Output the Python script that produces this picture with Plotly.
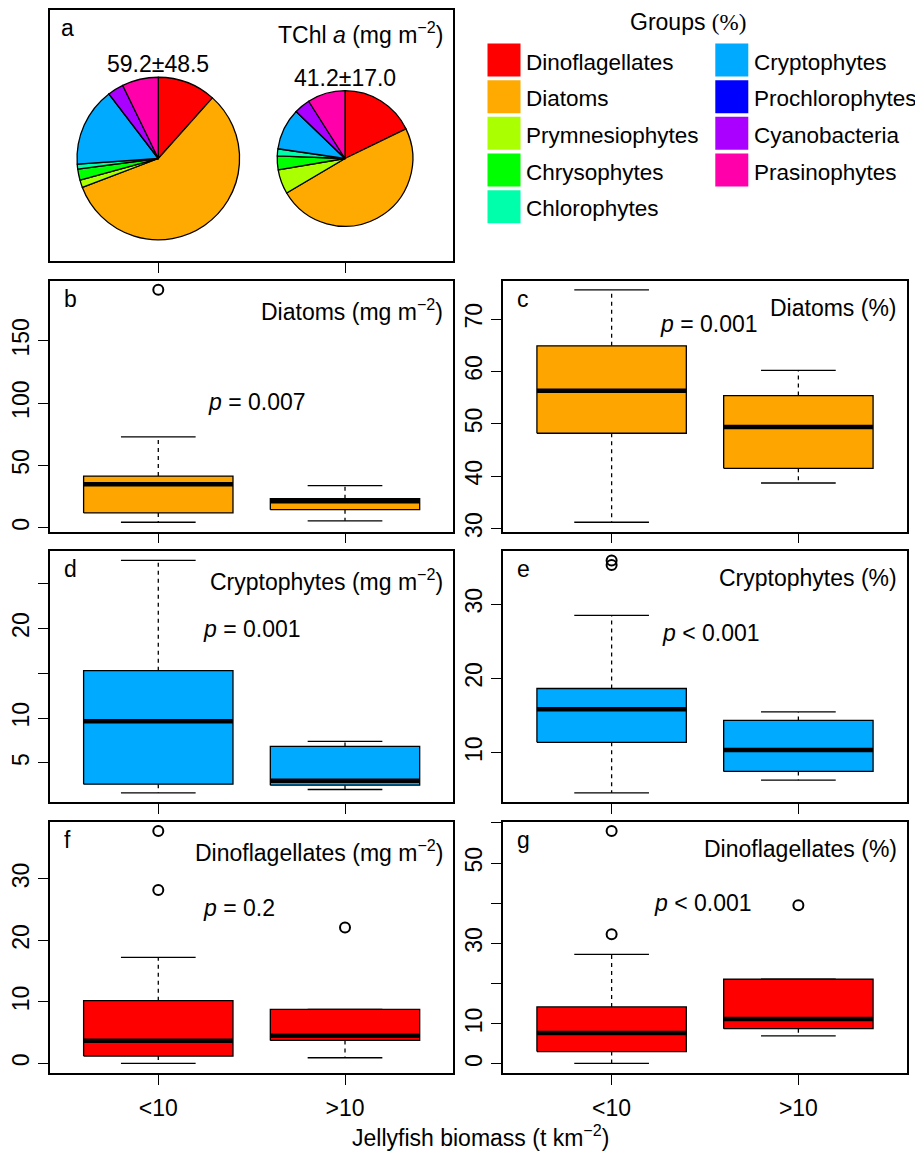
import plotly.graph_objects as go

# The page body has an 8 px margin, so the figure is sized to the visible window
# minus that margin and reference pixel positions are shifted by OFF.
OFF = 8
W, H = 923 - OFF, 1153 - OFF
FONT = "Liberation Sans, Arial, sans-serif"
FS = 23

# ---------------- data ----------------
groups = ["<10", ">10"]
group_pos = [1, 2]

pie_groups = ["Dinoflagellates", "Diatoms", "Prymnesiophytes", "Chrysophytes",
              "Chlorophytes", "Cryptophytes", "Prochlorophytes", "Cyanobacteria",
              "Prasinophytes"]
pie_colors = ["#FF0000", "#FFAA00", "#AAFF00", "#00FF00", "#00FFAA",
              "#00AAFF", "#0000FF", "#AA00FF", "#FF00AA"]
pie_low = [11.6, 57.6, 1.5, 2.2, 1.0, 15.7, 0.0, 3.2, 7.2]
pie_high = [17.8, 48.7, 5.8, 3.3, 1.7, 9.9, 0.0, 3.8, 9.0]
tchl_mean = [59.2, 41.2]
tchl_sd = [48.5, 17.0]

# box statistics per group: [lower whisker, Q1, median, Q3, upper whisker]
diatoms_mg_stats = [[4.5, 12.0, 35.0, 41.5, 72.9], [5.6, 14.6, 21.3, 23.4, 33.8]]
diatoms_mg_out = [[190.9], []]
diatoms_pct_stats = [[31.2, 48.2, 56.3, 64.9, 75.6], [38.7, 41.5, 49.4, 55.4, 60.2]]
diatoms_pct_out = [[], []]
crypto_mg_stats = [[1.67, 2.63, 9.67, 15.3, 27.6], [2.04, 2.52, 3.03, 6.85, 7.4]]
crypto_mg_out = [[], []]
crypto_pct_stats = [[4.6, 11.4, 15.86, 18.65, 28.5], [6.3, 7.48, 10.36, 14.35, 15.5]]
crypto_pct_out = [[35.3, 35.9], []]
dino_mg_stats = [[0.0, 1.19, 3.68, 10.2, 17.26], [0.92, 3.73, 4.5, 8.8, 8.8]]
dino_mg_out = [[28.2, 37.8], [22.1]]
dino_pct_stats = [[0.15, 3.1, 7.7, 14.2, 27.3], [7.0, 8.8, 11.2, 21.1, 21.1]]
dino_pct_out = [[32.3, 58.0], [39.5]]

p_texts = ["<i>p</i> = 0.007", "<i>p</i> = 0.001", "<i>p</i> = 0.001",
           "<i>p</i> < 0.001", "<i>p</i> = 0.2", "<i>p</i> < 0.001"]

ticks_b = [0, 50, 100, 150]
ticks_c = [30, 40, 50, 60, 70]
ticks_d = [5, 10, 15, 20, 25]
ticklabels_d = ["5", "10", "", "20", ""]
ticks_e = [10, 20, 30]
ticks_f = [0, 10, 20, 30]
ticks_g = [0, 10, 20, 30, 40, 50, 60]
ticklabels_g = ["0", "10", "", "30", "", "50", ""]

# ---------------- layout helpers (reference pixel coords) ----------------
LEFT = (50, 453.3)
RIGHT = (503.3, 906.7)
ROW_TOPS = [10, 282, 554, 826]
PANEL_H = 252.3
XR = [group_pos[0] - 0.5 - 0.04 * len(groups), group_pos[-1] + 0.5 + 0.04 * len(groups)]


def px_x(px):
    return (px - OFF) / W


def px_y(py):
    return 1 - (py - OFF) / H


def xdom(px):
    return [px_x(px[0]), px_x(px[1])]


def ydom(top):
    return [px_y(top + PANEL_H), px_y(top)]


fig = go.Figure()
layout = dict(width=W, height=H, margin=dict(l=0, r=0, t=0, b=0),
              paper_bgcolor="white", plot_bgcolor="white", showlegend=False,
              font=dict(family=FONT, size=FS, color="black"))
annotations = []

axis_common = dict(showline=True, mirror=True, linecolor="black", linewidth=1.8,
                   showgrid=False, zeroline=False, ticks="outside", ticklen=10,
                   tickwidth=1.3, tickcolor="black",
                   tickfont=dict(family=FONT, size=FS, color="black"))

# ---------------- panel a (pies) ----------------
layout["xaxis"] = dict(axis_common, domain=xdom(LEFT), range=XR, tickvals=group_pos,
                       showticklabels=False, anchor="y")
layout["yaxis"] = dict(axis_common, domain=ydom(ROW_TOPS[0]), range=[0, 1], ticks="",
                       showticklabels=False, anchor="x")
# empty cartesian trace so that panel a's frame and ticks are drawn
fig.add_trace(go.Scatter(x=[], y=[], xaxis="x", yaxis="y", hoverinfo="skip"))


def data_to_px_x(v, px):
    return px[0] + (v - XR[0]) / (XR[1] - XR[0]) * (px[1] - px[0])


pie_cy = 159.3
r1 = 81.7
for i, vals in enumerate([pie_low, pie_high]):
    r = r1 * (tchl_mean[i] / tchl_mean[0]) ** 0.5
    cx = data_to_px_x(group_pos[i], LEFT)
    fig.add_trace(go.Pie(values=vals, labels=pie_groups, sort=False, direction="clockwise",
                         rotation=0, textinfo="none", hoverinfo="label+value",
                         marker=dict(colors=pie_colors, line=dict(color="black", width=1.3)),
                         domain=dict(x=[px_x(cx - r), px_x(cx + r)],
                                     y=[px_y(pie_cy + r), px_y(pie_cy - r)])))
    annotations.append(dict(text=f"{tchl_mean[i]:.1f}±{tchl_sd[i]:.1f}", x=px_x(cx),
                            y=px_y(pie_cy - r - 13), xref="paper", yref="paper",
                            showarrow=False, xanchor="center", yanchor="middle",
                            font=dict(size=FS)))

annotations.append(dict(text="a", x=0, y=1, xref="x domain", yref="y domain",
                        xanchor="left", yanchor="top", xshift=9, yshift=-3,
                        showarrow=False, font=dict(size=FS)))
annotations.append(dict(text="TChl <i>a</i> (mg m<sup>−2</sup>)", x=1, y=1,
                        xref="x domain", yref="y domain", xanchor="right", yanchor="top",
                        xshift=-8, yshift=-6, showarrow=False, font=dict(size=FS)))

# ---------------- legend (groups) ----------------
leg_col = [i // 5 for i in range(len(pie_groups))]
leg_row = [i % 5 for i in range(len(pie_groups))]
col_x0, col_dx = 504.0, 227.8
row_y0, row_dy = 60.3, 36.85
layout["xaxis8"] = dict(domain=[px_x(460), 1],
                        range=[(460 - col_x0) / col_dx, (923 - col_x0) / col_dx],
                        visible=False, anchor="y8", fixedrange=True)
layout["yaxis8"] = dict(domain=[px_y(260), 1],
                        range=[(260 - row_y0) / row_dy, (OFF - row_y0) / row_dy],
                        visible=False, anchor="x8", fixedrange=True)
fig.add_trace(go.Scatter(x=leg_col, y=leg_row, mode="markers",
                         marker=dict(symbol="square", size=33, color=pie_colors,
                                     line=dict(width=0)),
                         xaxis="x8", yaxis="y8", hoverinfo="skip", cliponaxis=False))
for name, c, r in zip(pie_groups, leg_col, leg_row):
    annotations.append(dict(text=name, x=c, y=r, xref="x8", yref="y8",
                            xanchor="left", yanchor="middle", xshift=20, yshift=-2,
                            showarrow=False, font=dict(size=22.5)))
annotations.append(dict(text="Groups <span style=\"font-family:Liberation Serif\">(%)</span>",
                        x=px_x(688), y=px_y(21.7), xref="paper", yref="paper",
                        showarrow=False, xanchor="center", yanchor="middle",
                        font=dict(size=FS)))

# ---------------- box panels ----------------
panels = [
    ("b", "Diatoms (mg m<sup>−2</sup>)", diatoms_mg_stats, diatoms_mg_out, "#FFA500",
     LEFT, ROW_TOPS[1], ticks_b, None, (1.53, 101), False),
    ("c", "Diatoms (%)", diatoms_pct_stats, diatoms_pct_out, "#FFA500",
     RIGHT, ROW_TOPS[1], ticks_c, None, (1.52, 69.0), False),
    ("d", "Cryptophytes (mg m<sup>−2</sup>)", crypto_mg_stats, crypto_mg_out, "#00AAFF",
     LEFT, ROW_TOPS[2], ticks_d, ticklabels_d, (1.50, 20.0), False),
    ("e", "Cryptophytes (%)", crypto_pct_stats, crypto_pct_out, "#00AAFF",
     RIGHT, ROW_TOPS[2], ticks_e, None, (1.53, 26.1), False),
    ("f", "Dinoflagellates (mg m<sup>−2</sup>)", dino_mg_stats, dino_mg_out, "#FF0000",
     LEFT, ROW_TOPS[3], ticks_f, None, (1.43, 25.3), True),
    ("g", "Dinoflagellates (%)", dino_pct_stats, dino_pct_out, "#FF0000",
     RIGHT, ROW_TOPS[3], ticks_g, ticklabels_g, (1.49, 40.2), True),
]

BW = 0.4   # half box width
SW = 0.2   # half staple width

for k, (letter, title, stats, outs, color, xpx, top, tv, tt, ppos, showx) in enumerate(panels):
    n = k + 2
    xa, ya = f"x{n}", f"y{n}"
    allv = [v for s in stats for v in s] + [v for o in outs for v in o]
    lo, hi = min(allv), max(allv)
    pad = 0.04 * (hi - lo)
    labels = tt if tt else [str(v) for v in tv]
    major_v = [v for v, l in zip(tv, labels) if l]
    major_t = [l for l in labels if l]
    minor_v = [v for v, l in zip(tv, labels) if not l]
    layout[f"xaxis{n}"] = dict(axis_common, domain=xdom(xpx), range=XR, tickvals=group_pos,
                               ticktext=groups, showticklabels=showx, anchor=ya,
                               ticklabelstandoff=4)
    yax = dict(axis_common, domain=ydom(top), range=[lo - pad, hi + pad],
               tickmode="array", tickvals=major_v, ticktext=major_t,
               tickangle=-90, anchor=xa)
    if minor_v:
        yax["minor"] = dict(tickmode="array", tickvals=minor_v, ticks="outside",
                            ticklen=10, tickwidth=1.3, tickcolor="black", showgrid=False)
    layout[f"yaxis{n}"] = yax
    for g, s, o in zip(group_pos, stats, outs):
        lw, q1, med, q3, uw = s
        fig.add_trace(go.Scatter(x=[g, g, None, g, g], y=[q3, uw, None, q1, lw],
                                 mode="lines", line=dict(color="black", width=1.3, dash="4px,4px"),
                                 xaxis=xa, yaxis=ya, hoverinfo="skip"))
        fig.add_trace(go.Scatter(x=[g - SW, g + SW, None, g - SW, g + SW],
                                 y=[uw, uw, None, lw, lw], mode="lines",
                                 line=dict(color="black", width=1.3),
                                 xaxis=xa, yaxis=ya, hoverinfo="skip"))
        fig.add_trace(go.Scatter(x=[g - BW, g + BW, g + BW, g - BW, g - BW],
                                 y=[q1, q1, q3, q3, q1], mode="lines", fill="toself",
                                 fillcolor=color, line=dict(color="black", width=1.3),
                                 xaxis=xa, yaxis=ya, hoverinfo="skip"))
        fig.add_trace(go.Scatter(x=[g - BW, g + BW], y=[med, med], mode="lines",
                                 line=dict(color="black", width=4.5),
                                 xaxis=xa, yaxis=ya, hoverinfo="skip"))
        if o:
            fig.add_trace(go.Scatter(x=[g] * len(o), y=o, mode="markers",
                                     marker=dict(symbol="circle-open", size=10, color="black",
                                                 line=dict(width=2)),
                                     xaxis=xa, yaxis=ya, cliponaxis=False))
    dref_x, dref_y = f"{xa} domain", f"{ya} domain"
    annotations.append(dict(text=letter, x=0, y=1, xref=dref_x, yref=dref_y,
                            xanchor="left", yanchor="top", xshift=12, yshift=-3,
                            showarrow=False, font=dict(size=FS)))
    annotations.append(dict(text=title, x=1, y=1, xref=dref_x, yref=dref_y,
                            xanchor="right", yanchor="top", xshift=-8, yshift=-12,
                            showarrow=False, font=dict(size=FS)))
    annotations.append(dict(text=p_texts[k], x=ppos[0], y=ppos[1], xref=xa, yref=ya,
                            xanchor="center", yanchor="middle", showarrow=False,
                            font=dict(size=FS)))

annotations.append(dict(text="Jellyfish biomass (t km<sup>−2</sup>)", x=px_x(480.5),
                        y=px_y(1142), xref="paper", yref="paper", showarrow=False,
                        xanchor="center", yanchor="middle", font=dict(size=FS)))

layout["annotations"] = annotations
fig.update_layout(**layout)
fig.write_html("out.html")
